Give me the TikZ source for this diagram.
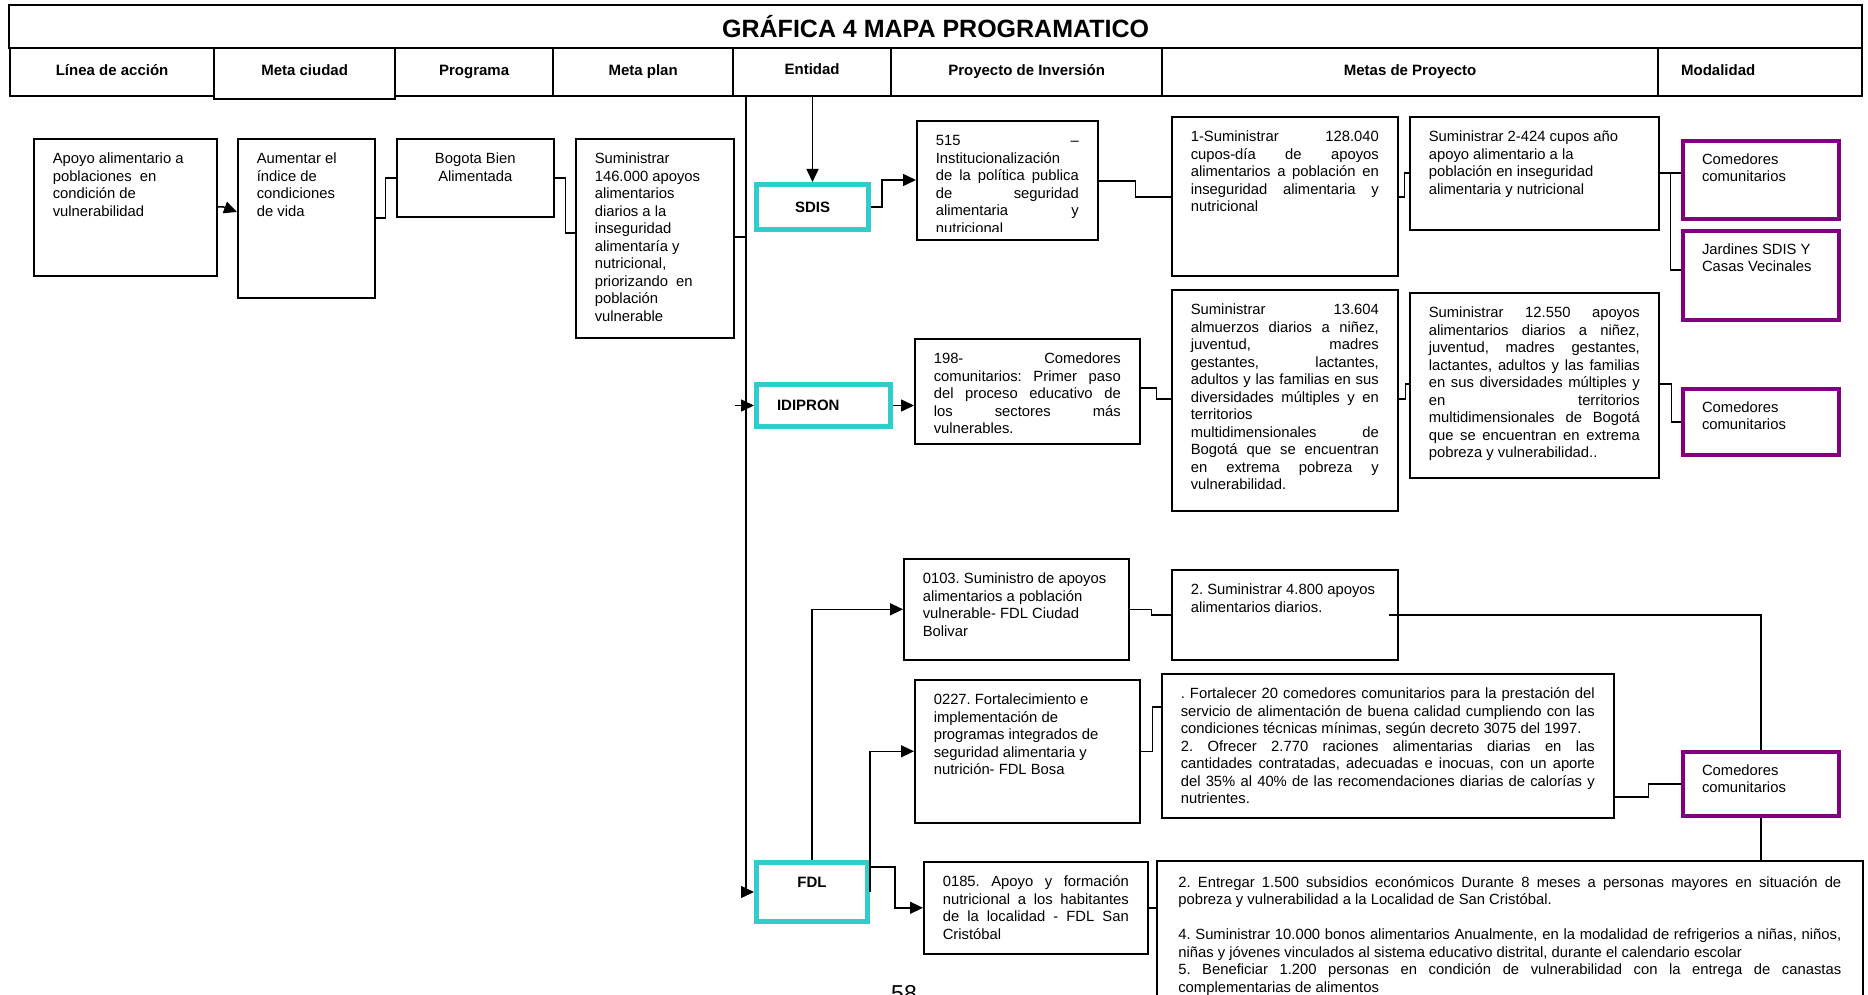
\documentclass[tikz,border=0pt]{standalone}
\usepackage{fontspec}
\setmainfont{Liberation Sans}
\usetikzlibrary{arrows.meta}

\definecolor{entteal}{RGB}{51,204,204}
\definecolor{modpurple}{RGB}{128,0,128}

\newcommand{\bodyfont}{\fontsize{14.8pt}{17.5pt}\selectfont}
\newcommand{\hdfont}{\fontsize{15pt}{17pt}\selectfont\bfseries}
\newcommand{\ttlfont}{\fontsize{25pt}{28pt}\selectfont\bfseries}
\newcommand{\celltext}[3]{\parbox[t][#2][t]{#1}{\frenchspacing\tolerance=10000\hyphenpenalty=10000\exhyphenpenalty=10000\strut #3}}

\tikzset{cell/.style={draw,line width=1.6pt,anchor=north west,inner xsep=19pt,inner ysep=12.5pt,font=\bodyfont}}
\tikzset{headcell/.style={draw,line width=2.2pt,anchor=north west,minimum height=48pt,inner sep=0pt,text height=11pt,text depth=4.2pt,font=\hdfont}}
\tikzset{entity/.style={draw=entteal,line width=5pt,anchor=north west,inner sep=0pt,font=\hdfont}}
\tikzset{modal/.style={cell,draw=modpurple,line width=4pt,inner ysep=11pt}}
\tikzset{link/.style={line width=1.5pt}}
\tikzset{>={Triangle[length=13pt,width=12pt]}}

\begin{document}
\begin{tikzpicture}[x=1pt,y=-1pt]
\useasboundingbox (0,0) rectangle (1868,995);

% header
\node[headcell,minimum width=1853pt,minimum height=43pt,text height=22pt,text depth=1pt,font=\ttlfont] (title) at (8,4) {GRÁFICA 4 MAPA PROGRAMATICO};
\node[headcell,minimum width=204pt] (hLinea) at (9,47) {Línea de acción};
\node[headcell,minimum width=181pt,minimum height=51pt,text depth=7.2pt] (hMetaCiudad) at (213,47) {Meta ciudad};
\node[headcell,minimum width=158pt] (hPrograma) at (394,47) {Programa};
\node[headcell,minimum width=180pt] (hMetaPlan) at (552,47) {Meta plan};
\node[headcell,minimum width=158pt,text depth=6pt] (hEntidad) at (732,47) {Entidad};
\node[headcell,minimum width=271pt] (hProyecto) at (890,47) {Proyecto de Inversión};
\node[headcell,minimum width=496pt] (hMetas) at (1161,47) {Metas de Proyecto};
\node[headcell,minimum width=204pt,text width=158pt,inner xsep=22pt,align=left] (hModalidad) at (1657,47) {Modalidad};

% left chain
\node[cell] (apoyo) at (33,138) {\celltext{145pt}{112pt}{\raggedright Apoyo alimentario a\\ poblaciones~ en\\ condición de\\ vulnerabilidad}};
\node[cell] (aumentar) at (237,138) {\celltext{99pt}{134pt}{\raggedright Aumentar el\\ índice de\\ condiciones\\ de vida}};
\node[cell] (bogota) at (396,138) {\celltext{119pt}{53pt}{\centering Bogota Bien\\ Alimentada}};
\node[cell] (meta146) at (575,138) {\celltext{120pt}{174pt}{\raggedright Suministrar\\ 146.000 apoyos\\ alimentarios\\ diarios a la\\ inseguridad\\ alimentaría y\\ nutricional,\\ priorizando~ en\\ población\\ vulnerable}};

\coordinate (spine) at (746,95);

% entities
\node[entity,minimum width=112pt,minimum height=45pt] (sdis) at (754,182) {SDIS};
\node[entity,minimum width=134pt,minimum height=42pt,text width=93pt,inner xsep=20.5pt,align=left] (idipron) at (754,382) {IDIPRON};
\node[entity,inner ysep=13.5pt] (fdl) at (754,860) {\celltext{111pt}{32pt}{\centering FDL}};

% SDIS row
\node[cell,minimum width=181pt,minimum height=119pt] (p515) at (916,120) {};
\begin{scope}
\clip (p515.north west) rectangle ([yshift=9pt]p515.south east);
\node[cell,draw=none] (p515txt) at (p515.north west) {\celltext{143pt}{94pt}{515 –\linebreak Institucionalización\linebreak de la política publica\linebreak de seguridad\linebreak alimentaria y\linebreak nutricional}};
\end{scope}
\node[cell] (m128) at (1171,116) {\celltext{188pt}{134pt}{1-Suministrar 128.040\linebreak cupos-día de apoyos\linebreak alimentarios a población en\linebreak inseguridad alimentaria y\linebreak nutricional}};
\node[cell] (m2424) at (1409,116) {\celltext{211pt}{88pt}{\raggedright Suministrar 2-424 cupos año\\ apoyo alimentario a la\\ población en inseguridad\\ alimentaria y nutricional}};
\node[modal] (mod1) at (1681,139) {\celltext{118pt}{56pt}{\raggedright Comedores\\ comunitarios}};
\node[modal] (mod2) at (1681,229) {\celltext{118pt}{67pt}{\raggedright Jardines SDIS Y\\ Casas Vecinales}};

% IDIPRON row
\node[cell] (p198) at (914,338) {\celltext{187pt}{80pt}{198- Comedores\linebreak comunitarios: Primer paso\linebreak del proceso educativo de\linebreak los sectores más\linebreak vulnerables.}};
\node[cell] (m13604) at (1171,289) {\celltext{188pt}{196pt}{Suministrar 13.604\linebreak almuerzos diarios a niñez,\linebreak juventud, madres\linebreak gestantes, lactantes,\linebreak adultos y las familias en sus\linebreak diversidades múltiples y en\linebreak territorios\linebreak multidimensionales de\linebreak Bogotá que se encuentran\linebreak en extrema pobreza y\linebreak vulnerabilidad.}};
\node[cell] (m12550) at (1409,292) {\celltext{211pt}{160pt}{Suministrar 12.550 apoyos\linebreak alimentarios diarios a niñez,\linebreak juventud, madres gestantes,\linebreak lactantes, adultos y las familias\linebreak en sus diversidades múltiples y\linebreak en territorios\linebreak multidimensionales de Bogotá\linebreak que se encuentran en extrema\linebreak pobreza y vulnerabilidad..}};
\node[modal] (mod3) at (1681,387) {\celltext{118pt}{44pt}{\raggedright Comedores\\ comunitarios}};

% FDL rows
\node[cell] (p0103) at (903,558) {\celltext{187pt}{76pt}{\raggedright 0103. Suministro de apoyos\\ alimentarios a población\\ vulnerable- FDL Ciudad\\ Bolivar}};
\node[cell] (m4800) at (1171,569) {\celltext{188pt}{65pt}{\raggedright 2. Suministrar 4.800 apoyos\\ alimentarios diarios.}};
\node[cell] (p0227) at (914,679) {\celltext{187pt}{118pt}{\raggedright 0227. Fortalecimiento e\\ implementación de\\ programas integrados de\\ seguridad alimentaria y\\ nutrición- FDL Bosa}};
\node[cell] (mfort) at (1161,673) {\celltext{414pt}{119pt}{. Fortalecer 20 comedores comunitarios para la prestación del\linebreak servicio de alimentación de buena calidad cumpliendo con las\linebreak condiciones técnicas mínimas, según decreto 3075 del 1997.\par 2. Ofrecer 2.770 raciones alimentarias diarias en las\linebreak cantidades contratadas, adecuadas e inocuas, con un aporte\linebreak del 35\% al 40\% de las recomendaciones diarias de calorías y\linebreak nutrientes.}};
\node[modal] (mod4) at (1681,750) {\celltext{118pt}{42pt}{\raggedright Comedores\\ comunitarios}};
\node[cell] (p0185) at (923,861) {\celltext{186pt}{67pt}{0185. Apoyo y formación\linebreak nutricional a los habitantes\linebreak de la localidad - FDL San\linebreak Cristóbal}};
\node[cell,inner xsep=21.5pt,inner ysep=14pt] (mbottom) at (1156,860) {\celltext{663pt}{122pt}{2. Entregar 1.500 subsidios económicos Durante 8 meses a personas mayores en situación de\linebreak pobreza y vulnerabilidad a la Localidad de San Cristóbal.\par\strut\par 4. Suministrar 10.000 bonos alimentarios Anualmente, en la modalidad de refrigerios a niñas, niños,\linebreak niñas y jóvenes vinculados al sistema educativo distrital, durante el calendario escolar\par 5. Beneficiar 1.200 personas en condición de vulnerabilidad con la entrega de canastas\linebreak complementarias de alimentos}};

\node[anchor=north,inner sep=0pt,font=\fontsize{23pt}{23pt}\selectfont] (pagenum) at (904,985) {58};

% connectors
\draw[->,link] (apoyo.east |- 0,207) -- ++(6,0) -- (aumentar.west |- 0,212);
\draw[link] (aumentar.east |- 0,218) -- ++(10,0) |- (bogota.west);
\draw[link] (bogota.east) -- ++(11,0) |- (meta146.west |- 0,233);
\draw[link] (meta146.east |- 0,237) -- (spine |- 0,237);
\draw[->,link] (spine) |- (fdl.west);
\draw[->,link] (hEntidad.south -| sdis.north) -- (sdis.north);

\draw[->,link] (sdis.east) -- ++(11,0) |- (p515.west |- 0,180);
\draw[link] (p515.east |- 0,181) -- ++(37,0) |- (m128.west |- 0,197);
\draw[link] (m128.east |- 0,197) -- ++(6,0) |- (m2424.west |- 0,173);
\draw[link] (m2424.east |- 0,173) -- (mod1.west |- 0,173);
\draw[link] (m2424.east |- 0,173) -- ++(11,0) |- (mod2.west |- 0,270);

\draw[->,link] (meta146.east |- idipron.west) -- (idipron.west);
\draw[->,link] (idipron.east) -- (idipron.east -| p198.west);
\draw[link] (p198.east |- 0,388) -- ++(16,0) |- (m13604.west |- 0,399);
\draw[link] (m13604.east |- 0,399) -- ++(7,0) |- (m12550.west |- 0,384);
\draw[link] (m12550.east |- 0,384) -- ++(12,0) |- (mod3.west);

\draw[->,link] (fdl.north) |- (p0103.west);
\draw[->,link] (fdl.east) |- (p0227.west);
\draw[->,link] (fdl.east |- 0,867) -- ++(25,0) |- (p0185.west);
\draw[link] (p0103.east) -- ++(22,0) |- (m4800.west);
\draw[link] ([xshift=-10pt]m4800.east) -| (mod4.north);
\draw[link] (mod4.south) -- (mod4.south |- mbottom.north);
\draw[link] (p0227.east) -- ++(12,0) |- (mfort.west |- 0,707);
\draw[link] (mfort.east |- 0,797) -- ++(34,0) |- (mod4.west);
\draw[link] (p0185.east) -- (p0185.east -| mbottom.west);

\end{tikzpicture}
\end{document}
